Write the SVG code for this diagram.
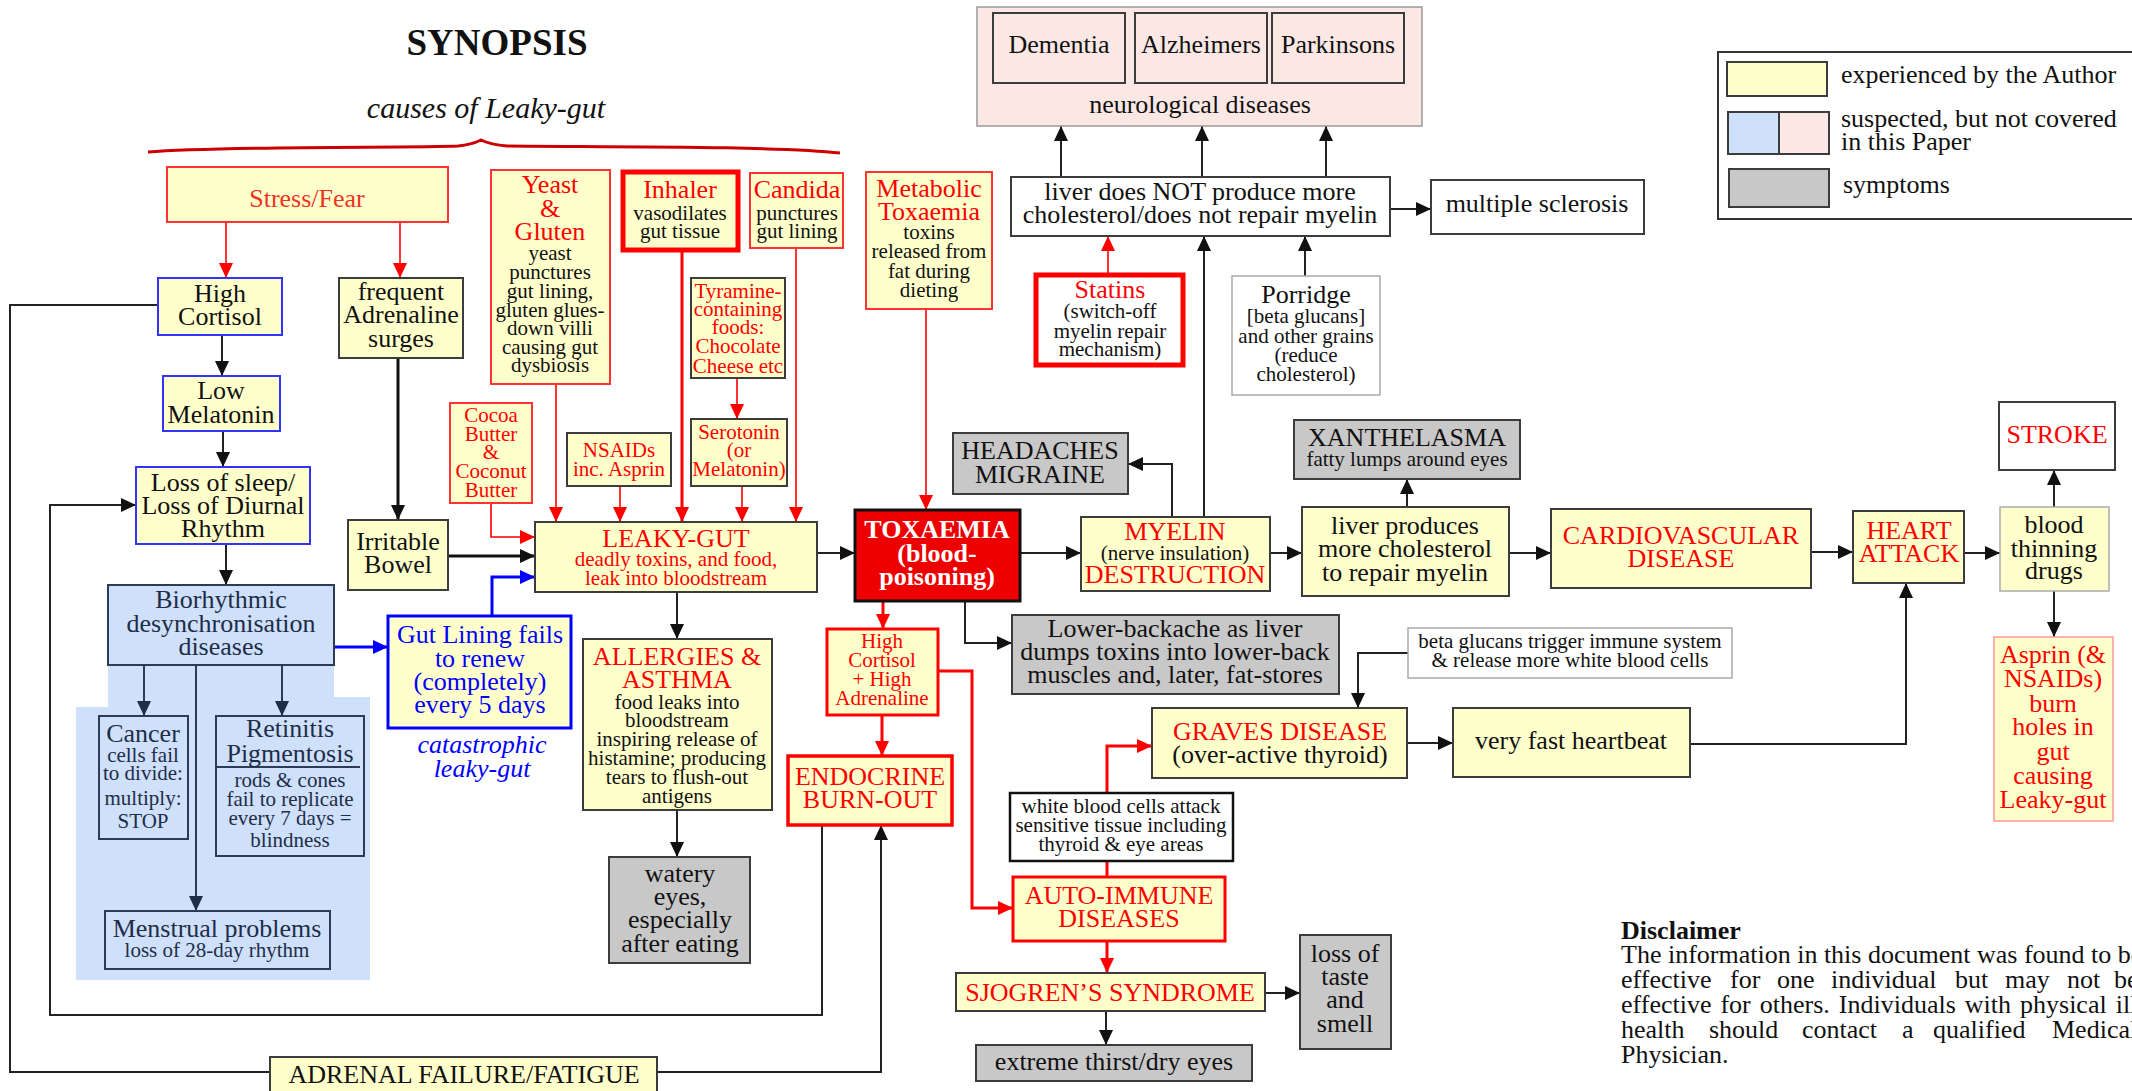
<svg xmlns="http://www.w3.org/2000/svg" width="2132" height="1091" viewBox="0 0 2132 1091">
<style>
text{font-family:"Liberation Serif","Times New Roman",serif;text-anchor:middle;fill:#111}
.s26{font-size:26px}
.s21{font-size:21px}
.r{fill:#f00}
.w{fill:#fff;font-weight:bold}
.bl{fill:#00f}
.nv{fill:#1e2d48}
.lt{text-anchor:start}
.it{font-style:italic}
.y{fill:#ffffcc;stroke:#3c3c3c;stroke-width:2}
.yr{fill:#ffffcc;stroke:#f33;stroke-width:2}
.yrt{fill:#ffffcc;stroke:#f00;stroke-width:3}
.yrk{fill:#ffffcc;stroke:#f00;stroke-width:5}
.ybl{fill:#ffffcc;stroke:#33f;stroke-width:2}
.g{fill:#c8c8c8;stroke:#3c3c3c;stroke-width:2}
.wb{fill:#fff;stroke:#3c3c3c;stroke-width:2}
.wl{fill:#fff;stroke:#aaa;stroke-width:1.5}
.bb{fill:#cfe0fb;stroke:#2c3c58;stroke-width:2}
.pk{fill:#fbe8e5;stroke:#3c3c3c;stroke-width:2}
.c{fill:none;stroke:#222;stroke-width:2}
.ck{fill:none;stroke:#111;stroke-width:3}
.cr{fill:none;stroke:#f00;stroke-width:1.6}
.crk{fill:none;stroke:#f00;stroke-width:3}
.cb{fill:none;stroke:#00f;stroke-width:3}
.cn{fill:none;stroke:#2c3c58;stroke-width:2}
</style>
<defs>
<marker id="ak" markerUnits="userSpaceOnUse" markerWidth="15" markerHeight="14" viewBox="0 0 15 14" refX="15" refY="7" orient="auto"><path d="M0,0 L15,7 L0,14 z" fill="#111"/></marker>
<marker id="ar" markerUnits="userSpaceOnUse" markerWidth="15" markerHeight="14" viewBox="0 0 15 14" refX="15" refY="7" orient="auto"><path d="M0,0 L15,7 L0,14 z" fill="#f00"/></marker>
<marker id="ab" markerUnits="userSpaceOnUse" markerWidth="15" markerHeight="14" viewBox="0 0 15 14" refX="15" refY="7" orient="auto"><path d="M0,0 L15,7 L0,14 z" fill="#00f"/></marker>
<marker id="an" markerUnits="userSpaceOnUse" markerWidth="15" markerHeight="14" viewBox="0 0 15 14" refX="15" refY="7" orient="auto"><path d="M0,0 L15,7 L0,14 z" fill="#1e2d48"/></marker>
</defs>
<rect width="2132" height="1091" fill="#fff"/>

<g id="title">
<text x="497" y="55" style="font-size:37px;font-weight:bold">SYNOPSIS</text>
<text x="486" y="118" class="it" style="font-size:30px">causes of Leaky-gut</text>
<path d="M148,152 C220,146 410,148 458,146 C470,145 475,143 481,140 C487,143 493,145 507,146 C600,147 780,146 840,153" fill="none" stroke="#c00" stroke-width="3"/>
</g>

<g id="biorhythmic-area">
<path d="M108,665 H334 V697 H370 V980 H76 V707 H108 Z" fill="#cfe0fb"/>
</g>

<g id="connectors">
<path class="c" d="M222,335 V376" marker-end="url(#ak)"/>
<path class="c" d="M223,431 V467" marker-end="url(#ak)"/>
<path class="c" d="M226,544 V585" marker-end="url(#ak)"/>
<path class="ck" d="M398,358 V520" marker-end="url(#ak)"/>
<path class="ck" d="M448,556 H535" marker-end="url(#ak)"/>
<path class="c" d="M817,553 H855" marker-end="url(#ak)"/>
<path class="c" d="M677,592 V639" marker-end="url(#ak)"/>
<path class="c" d="M677,810 V857" marker-end="url(#ak)"/>
<path class="c" d="M965,601 V643 H1012" marker-end="url(#ak)"/>
<path class="c" d="M1020,553 H1081" marker-end="url(#ak)"/>
<path class="c" d="M1172,517 V464 H1128" marker-end="url(#ak)"/>
<path class="c" d="M1204,517 V236" marker-end="url(#ak)"/>
<path class="c" d="M1305,276 V236" marker-end="url(#ak)"/>
<path class="c" d="M1061,177 V126" marker-end="url(#ak)"/>
<path class="c" d="M1202,177 V126" marker-end="url(#ak)"/>
<path class="c" d="M1326,177 V126" marker-end="url(#ak)"/>
<path class="c" d="M1390,209 H1431" marker-end="url(#ak)"/>
<path class="c" d="M1270,553 H1302" marker-end="url(#ak)"/>
<path class="c" d="M1407,507 V479" marker-end="url(#ak)"/>
<path class="c" d="M1509,553 H1551" marker-end="url(#ak)"/>
<path class="c" d="M1811,552 H1853" marker-end="url(#ak)"/>
<path class="c" d="M1964,553 H2000" marker-end="url(#ak)"/>
<path class="c" d="M2054,507 V470" marker-end="url(#ak)"/>
<path class="c" d="M2054,591 V637" marker-end="url(#ak)"/>
<path class="c" d="M1408,653 H1358 V708" marker-end="url(#ak)"/>
<path class="c" d="M1407,743 H1453" marker-end="url(#ak)"/>
<path class="c" d="M1690,744 H1906 V583" marker-end="url(#ak)"/>
<path class="c" d="M1265,993 H1300" marker-end="url(#ak)"/>
<path class="c" d="M1106,1011 V1045" marker-end="url(#ak)"/>
<path class="c" d="M822,825 V1015 H50 V505 H136" marker-end="url(#ak)"/>
<path class="c" d="M158,305 H10 V1072 H270"/>
<path class="c" d="M657,1072 H881 V825" marker-end="url(#ak)"/>
<path class="cr" d="M226,222 V278" marker-end="url(#ar)"/>
<path class="cr" d="M400,222 V278" marker-end="url(#ar)"/>
<path class="cr" d="M556,384 V522" marker-end="url(#ar)"/>
<path class="cr" d="M620,486 V522" marker-end="url(#ar)"/>
<path class="crk" d="M682,252 V522" marker-end="url(#ar)"/>
<path class="cr" d="M737,378 V419" marker-end="url(#ar)"/>
<path class="cr" d="M742,486 V522" marker-end="url(#ar)"/>
<path class="cr" d="M796,248 V522" marker-end="url(#ar)"/>
<path class="cr" d="M926,309 V510" marker-end="url(#ar)"/>
<path class="cr" d="M491,503 V537 H535" marker-end="url(#ar)"/>
<path class="cr" d="M1108,273 V236" marker-end="url(#ar)"/>
<path class="crk" d="M883,601 V629" marker-end="url(#ar)"/>
<path class="crk" d="M882,715 V756" marker-end="url(#ar)"/>
<path class="crk" d="M938,671 H972 V908 H1013" marker-end="url(#ar)"/>
<path class="crk" d="M1107,877 V746 H1152" marker-end="url(#ar)"/>
<path class="crk" d="M1107,941 V973" marker-end="url(#ar)"/>
<path class="cb" d="M334,647 H388" marker-end="url(#ab)"/>
<path class="cb" d="M492,616 V577 H535" marker-end="url(#ab)"/>
<path class="cn" d="M144,665 V716" marker-end="url(#an)"/>
<path class="cn" d="M282,665 V716" marker-end="url(#an)"/>
<path class="cn" d="M196,665 V911" marker-end="url(#an)"/>
</g>

<g id="stress-fear"><rect class="yr" x="167" y="167" width="281" height="55"/><text x="307" y="207" class="s26" style="fill:#ee3322">Stress/Fear</text></g>
<g id="high-cortisol"><rect class="ybl" x="158" y="278" width="124" height="57"/><text class="s26"><tspan x="220" y="302">High</tspan><tspan x="220" y="325">Cortisol</tspan></text></g>
<g id="frequent-adrenaline"><rect class="y" x="339" y="278" width="124" height="80"/><text class="s26"><tspan x="401" y="300">frequent</tspan><tspan x="401" y="323">Adrenaline</tspan><tspan x="401" y="347">surges</tspan></text></g>
<g id="yeast-gluten"><rect class="yr" x="491" y="170" width="119" height="214"/><text class="s26 r"><tspan x="550" y="193">Yeast</tspan><tspan x="550" y="217">&amp;</tspan><tspan x="550" y="240">Gluten</tspan></text><text class="s21"><tspan x="550" y="260">yeast</tspan><tspan x="550" y="279">punctures</tspan><tspan x="550" y="298">gut lining,</tspan><tspan x="550" y="317">gluten glues-</tspan><tspan x="550" y="335">down villi</tspan><tspan x="550" y="354">causing gut</tspan><tspan x="550" y="372">dysbiosis</tspan></text></g>
<g id="inhaler"><rect class="yrk" x="623" y="172" width="115" height="78"/><text class="s26 r" x="680" y="198">Inhaler</text><text class="s21"><tspan x="680" y="220">vasodilates</tspan><tspan x="680" y="238">gut tissue</tspan></text></g>
<g id="candida"><rect class="yr" x="750" y="173" width="93" height="75"/><text class="s26 r" x="797" y="198">Candida</text><text class="s21"><tspan x="797" y="220">punctures</tspan><tspan x="797" y="238">gut lining</tspan></text></g>
<g id="metabolic-toxaemia"><rect class="yr" x="866" y="172" width="126" height="137"/><text class="s26 r"><tspan x="929" y="197">Metabolic</tspan><tspan x="929" y="220">Toxaemia</tspan></text><text class="s21"><tspan x="929" y="239">toxins</tspan><tspan x="929" y="258">released from</tspan><tspan x="929" y="278">fat during</tspan><tspan x="929" y="297">dieting</tspan></text></g>
<g id="tyramine"><rect class="y" x="691" y="278" width="94" height="100"/><text class="s21 r"><tspan x="738" y="298">Tyramine-</tspan><tspan x="738" y="316">containing</tspan><tspan x="738" y="334">foods:</tspan><tspan x="738" y="353">Chocolate</tspan><tspan x="738" y="373">Cheese etc</tspan></text></g>
<g id="serotonin"><rect class="y" x="691" y="419" width="96" height="67"/><text class="s21 r"><tspan x="739" y="439">Serotonin</tspan><tspan x="739" y="457">(or</tspan><tspan x="739" y="476">Melatonin)</tspan></text></g>
<g id="nsaids"><rect class="y" x="567" y="433" width="104" height="53"/><text class="s21 r"><tspan x="619" y="457">NSAIDs</tspan><tspan x="619" y="476">inc. Asprin</tspan></text></g>
<g id="cocoa-butter"><rect class="yr" x="450" y="403" width="82" height="100"/><text class="s21 r"><tspan x="491" y="422">Cocoa</tspan><tspan x="491" y="441">Butter</tspan><tspan x="491" y="459">&amp;</tspan><tspan x="491" y="478">Coconut</tspan><tspan x="491" y="497">Butter</tspan></text></g>
<g id="low-melatonin"><rect class="ybl" x="163" y="376" width="117" height="55"/><text class="s26"><tspan x="221" y="399">Low</tspan><tspan x="221" y="423">Melatonin</tspan></text></g>
<g id="loss-of-sleep"><rect class="ybl" x="136" y="467" width="174" height="77"/><text class="s26"><tspan x="223" y="491">Loss of sleep/</tspan><tspan x="223" y="514">Loss of Diurnal</tspan><tspan x="223" y="537">Rhythm</tspan></text></g>
<g id="irritable-bowel"><rect class="y" x="348" y="520" width="100" height="70"/><text class="s26"><tspan x="398" y="550">Irritable</tspan><tspan x="398" y="573">Bowel</tspan></text></g>
<g id="biorhythmic"><rect class="bb" x="108" y="585" width="226" height="80"/><text class="s26 nv"><tspan x="221" y="608">Biorhythmic</tspan><tspan x="221" y="632">desynchronisation</tspan><tspan x="221" y="655">diseases</tspan></text></g>
<g id="gut-lining"><rect x="388" y="616" width="183" height="112" fill="#ffffcc" stroke="#00f" stroke-width="3"/><text class="s26 bl"><tspan x="480" y="643">Gut Lining fails</tspan><tspan x="480" y="667">to renew</tspan><tspan x="480" y="690">(completely)</tspan><tspan x="480" y="713">every 5 days</tspan></text><text class="s26 bl it"><tspan x="482" y="753">catastrophic</tspan><tspan x="482" y="777">leaky-gut</tspan></text></g>
<g id="cancer"><rect x="99" y="716" width="89" height="123" fill="none" stroke="#2c3c58" stroke-width="2"/><text class="s26 nv" x="143" y="742">Cancer</text><text class="s21 nv"><tspan x="143" y="762">cells fail</tspan><tspan x="143" y="780">to divide:</tspan><tspan x="143" y="805">multiply:</tspan><tspan x="143" y="828">STOP</tspan></text></g>
<g id="retinitis"><rect x="216" y="716" width="148" height="140" fill="none" stroke="#2c3c58" stroke-width="2"/><path d="M216,767 H360" stroke="#2c3c58" stroke-width="2"/><text class="s26 nv"><tspan x="290" y="737">Retinitis</tspan><tspan x="290" y="762">Pigmentosis</tspan></text><text class="s21 nv"><tspan x="290" y="787">rods &amp; cones</tspan><tspan x="290" y="806">fail to replicate</tspan><tspan x="290" y="825">every 7 days =</tspan><tspan x="290" y="847">blindness</tspan></text></g>
<g id="menstrual"><rect x="105" y="911" width="225" height="58" fill="none" stroke="#2c3c58" stroke-width="2"/><text class="s26 nv" x="217" y="937">Menstrual problems</text><text class="s21 nv" x="217" y="957">loss of 28-day rhythm</text></g>
<g id="adrenal-failure"><rect class="y" x="270" y="1057" width="387" height="40"/><text class="s26" x="464" y="1083">ADRENAL FAILURE/FATIGUE</text></g>
<g id="leaky-gut"><rect class="y" x="535" y="522" width="282" height="70"/><text class="s26 r" x="676" y="547">LEAKY-GUT</text><text class="s21 r"><tspan x="676" y="566">deadly toxins, and food,</tspan><tspan x="676" y="585">leak into bloodstream</tspan></text></g>
<g id="toxaemia"><rect x="855" y="510" width="165" height="91" fill="#ee0000" stroke="#111" stroke-width="3"/><text class="s26 w"><tspan x="937" y="538">TOXAEMIA</tspan><tspan x="937" y="562">(blood-</tspan><tspan x="937" y="585">poisoning)</tspan></text></g>
<g id="headaches"><rect class="g" x="953" y="433" width="175" height="61"/><text class="s26"><tspan x="1040" y="459">HEADACHES</tspan><tspan x="1040" y="483">MIGRAINE</tspan></text></g>
<g id="allergies"><rect class="y" x="583" y="639" width="189" height="171"/><text class="s26 r"><tspan x="677" y="665">ALLERGIES &amp;</tspan><tspan x="677" y="688">ASTHMA</tspan></text><text class="s21"><tspan x="677" y="709">food leaks into</tspan><tspan x="677" y="727">bloodstream</tspan><tspan x="677" y="746">inspiring release of</tspan><tspan x="677" y="765">histamine; producing</tspan><tspan x="677" y="784">tears to flush-out</tspan><tspan x="677" y="803">antigens</tspan></text></g>
<g id="watery-eyes"><rect class="g" x="609" y="857" width="141" height="106"/><text class="s26"><tspan x="680" y="882">watery</tspan><tspan x="680" y="905">eyes,</tspan><tspan x="680" y="928">especially</tspan><tspan x="680" y="952">after eating</tspan></text></g>
<g id="high-cortisol-adrenaline"><rect class="yrt" x="827" y="629" width="111" height="86"/><text class="s21 r"><tspan x="882" y="648">High</tspan><tspan x="882" y="667">Cortisol</tspan><tspan x="882" y="686">+ High</tspan><tspan x="882" y="705">Adrenaline</tspan></text></g>
<g id="endocrine"><rect x="788" y="756" width="164" height="69" fill="#ffffcc" stroke="#f00" stroke-width="3.5"/><text class="s26 r"><tspan x="870" y="785">ENDOCRINE</tspan><tspan x="870" y="808">BURN-OUT</tspan></text></g>
<g id="lower-backache"><rect class="g" x="1012" y="615" width="327" height="79"/><text class="s26"><tspan x="1175" y="637">Lower-backache as liver</tspan><tspan x="1175" y="660">dumps toxins into lower-back</tspan><tspan x="1175" y="683">muscles and, later, fat-stores</tspan></text></g>
<g id="myelin"><rect class="y" x="1081" y="517" width="189" height="74"/><text class="s26 r" x="1175" y="540">MYELIN</text><text class="s21" x="1175" y="560">(nerve insulation)</text><text class="s26 r" x="1175" y="583">DESTRUCTION</text></g>
<g id="neurological-diseases"><rect x="977" y="7" width="445" height="119" fill="#fbe8e5" stroke="#999" stroke-width="1.5"/><rect class="pk" x="993" y="13" width="132" height="70"/><rect class="pk" x="1135" y="13" width="132" height="70"/><rect class="pk" x="1272" y="13" width="132" height="70"/><text class="s26" x="1059" y="53">Dementia</text><text class="s26" x="1201" y="53">Alzheimers</text><text class="s26" x="1338" y="53">Parkinsons</text><text class="s26" x="1200" y="113">neurological diseases</text></g>
<g id="liver-not"><rect class="wb" x="1011" y="177" width="379" height="59"/><text class="s26"><tspan x="1200" y="200">liver does NOT produce more</tspan><tspan x="1200" y="223">cholesterol/does not repair myelin</tspan></text></g>
<g id="multiple-sclerosis"><rect class="wb" x="1431" y="180" width="213" height="54"/><text class="s26" x="1537" y="212">multiple sclerosis</text></g>
<g id="statins"><rect x="1036" y="275" width="147" height="90" fill="#fff" stroke="#f00" stroke-width="5"/><text class="s26 r" x="1110" y="298">Statins</text><text class="s21"><tspan x="1110" y="318">(switch-off</tspan><tspan x="1110" y="338">myelin repair</tspan><tspan x="1110" y="356">mechanism)</tspan></text></g>
<g id="porridge"><rect class="wl" x="1232" y="276" width="148" height="119"/><text class="s26" x="1306" y="303">Porridge</text><text class="s21"><tspan x="1306" y="323">[beta glucans]</tspan><tspan x="1306" y="343">and other grains</tspan><tspan x="1306" y="362">(reduce</tspan><tspan x="1306" y="381">cholesterol)</tspan></text></g>
<g id="xanthelasma"><rect class="g" x="1294" y="420" width="226" height="59"/><text class="s26" x="1407" y="446">XANTHELASMA</text><text class="s21" x="1407" y="466">fatty lumps around eyes</text></g>
<g id="liver-produces"><rect class="y" x="1302" y="507" width="207" height="89"/><text class="s26"><tspan x="1405" y="534">liver produces</tspan><tspan x="1405" y="557">more cholesterol</tspan><tspan x="1405" y="581">to repair myelin</tspan></text></g>
<g id="cardiovascular"><rect class="y" x="1551" y="509" width="260" height="79"/><text class="s26 r"><tspan x="1681" y="544">CARDIOVASCULAR</tspan><tspan x="1681" y="567">DISEASE</tspan></text></g>
<g id="heart-attack"><rect class="y" x="1853" y="511" width="111" height="72"/><text class="s26 r"><tspan x="1909" y="539">HEART</tspan><tspan x="1909" y="562">ATTACK</tspan></text></g>
<g id="blood-thinning"><rect x="2000" y="507" width="109" height="84" fill="#ffffcc" stroke="#aaa" stroke-width="1.5"/><text class="s26"><tspan x="2054" y="533">blood</tspan><tspan x="2054" y="557">thinning</tspan><tspan x="2054" y="579">drugs</tspan></text></g>
<g id="stroke"><rect class="wb" x="1999" y="402" width="116" height="68"/><text class="s26 r" x="2057" y="443">STROKE</text></g>
<g id="asprin"><rect x="1994" y="637" width="119" height="184" fill="#ffffcc" stroke="#f99" stroke-width="1.5"/><text class="s26 r"><tspan x="2053" y="663">Asprin (&amp;</tspan><tspan x="2053" y="687">NSAIDs)</tspan><tspan x="2053" y="712">burn</tspan><tspan x="2053" y="735">holes in</tspan><tspan x="2053" y="760">gut</tspan><tspan x="2053" y="784">causing</tspan><tspan x="2053" y="808">Leaky-gut</tspan></text></g>
<g id="beta-glucans"><rect class="wl" x="1408" y="628" width="324" height="50"/><text class="s21"><tspan x="1570" y="648">beta glucans trigger immune system</tspan><tspan x="1570" y="667">&amp; release more white blood cells</tspan></text></g>
<g id="graves"><rect class="y" x="1152" y="708" width="255" height="70"/><text class="s26 r" x="1280" y="740">GRAVES DISEASE</text><text class="s26" x="1280" y="763">(over-active thyroid)</text></g>
<g id="fast-heartbeat"><rect class="y" x="1453" y="708" width="237" height="69"/><text class="s26" x="1571" y="749">very fast heartbeat</text></g>
<g id="white-blood-cells"><rect x="1010" y="793" width="223" height="68" fill="#fff" stroke="#111" stroke-width="2.5"/><text class="s21"><tspan x="1121" y="813">white blood cells attack</tspan><tspan x="1121" y="832">sensitive tissue including</tspan><tspan x="1121" y="851">thyroid &amp; eye areas</tspan></text></g>
<g id="auto-immune"><rect class="yrt" x="1013" y="877" width="212" height="64"/><text class="s26 r"><tspan x="1119" y="904">AUTO-IMMUNE</tspan><tspan x="1119" y="927">DISEASES</tspan></text></g>
<g id="sjogren"><rect class="y" x="956" y="973" width="309" height="38"/><text class="s26 r" x="1110" y="1001">SJOGREN’S SYNDROME</text></g>
<g id="loss-of-taste"><rect class="g" x="1300" y="935" width="91" height="114"/><text class="s26"><tspan x="1345" y="962">loss of</tspan><tspan x="1345" y="985">taste</tspan><tspan x="1345" y="1008">and</tspan><tspan x="1345" y="1032">smell</tspan></text></g>
<g id="extreme-thirst"><rect class="g" x="976" y="1045" width="276" height="36"/><text class="s26" x="1114" y="1070">extreme thirst/dry eyes</text></g>

<g id="legend">
<rect x="1718" y="52" width="420" height="167" fill="#fff" stroke="#333" stroke-width="2"/>
<rect class="y" x="1727" y="62" width="100" height="34"/>
<rect x="1728" y="112" width="51" height="42" fill="#cfe0fb" stroke="#3c3c3c" stroke-width="2"/>
<rect x="1779" y="112" width="50" height="42" fill="#fbe8e5" stroke="#3c3c3c" stroke-width="2"/>
<rect class="g" x="1729" y="169" width="100" height="38"/>
<text class="s26 lt" x="1841" y="83">experienced by the Author</text>
<text class="s26 lt"><tspan x="1841" y="127">suspected, but not covered</tspan><tspan x="1841" y="150">in this Paper</tspan></text>
<text class="s26 lt" x="1843" y="193">symptoms</text>
</g>

<g id="disclaimer">
<text class="s26 lt" x="1621" y="939" style="font-weight:bold">Disclaimer</text>
<text class="s26 lt" x="1621" y="963">The information in this document was found to be</text>
<text class="s26 lt" y="988"><tspan x="1621">effective</tspan><tspan x="1730">for</tspan><tspan x="1777">one</tspan><tspan x="1831">individual</tspan><tspan x="1955">but</tspan><tspan x="2005">may</tspan><tspan x="2067">not</tspan><tspan x="2114">be</tspan></text>
<text class="s26 lt" x="1621" y="1013" style="word-spacing:2.5px">effective for others. Individuals with physical illness</text>
<text class="s26 lt" y="1038"><tspan x="1621">health</tspan><tspan x="1709">should</tspan><tspan x="1802">contact</tspan><tspan x="1902">a</tspan><tspan x="1933">qualified</tspan><tspan x="2052">Medical</tspan></text>
<text class="s26 lt" x="1621" y="1063">Physician.</text>
</g>
</svg>
